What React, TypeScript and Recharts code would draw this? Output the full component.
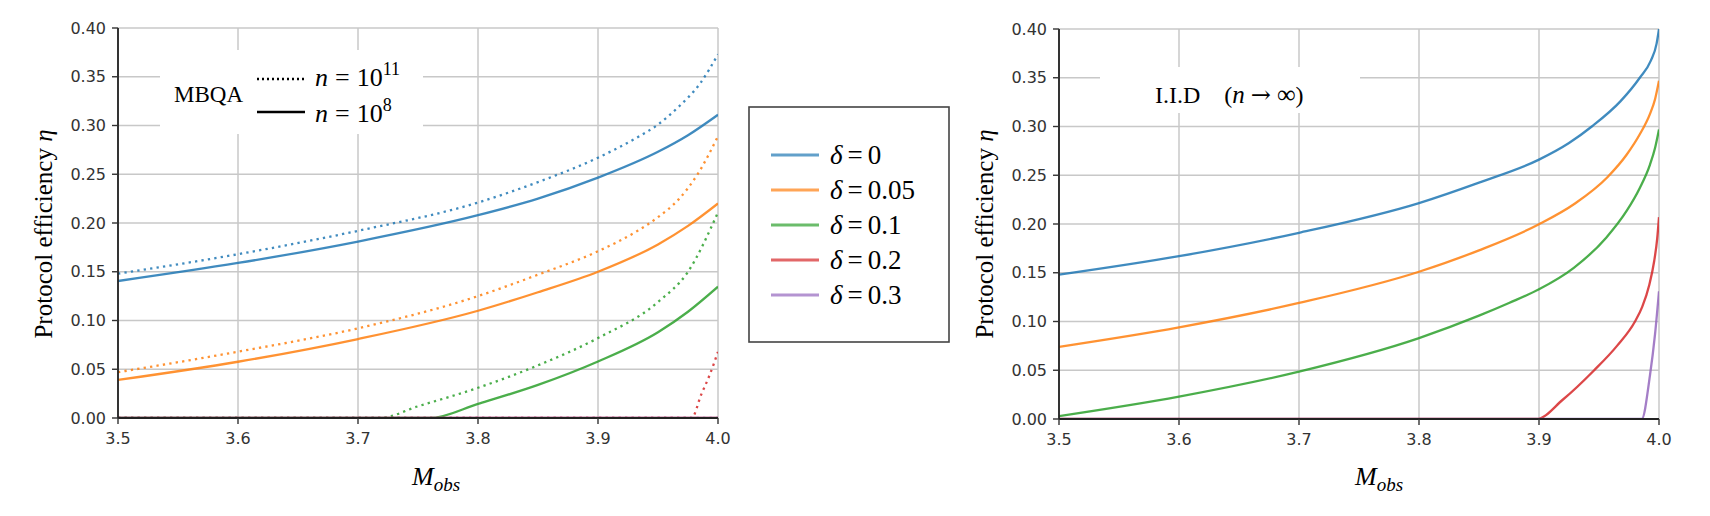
import { LineChart, Line, XAxis, YAxis, CartesianGrid } from "recharts";

type Pt = [number, number];

const xTicks = [3.5, 3.6, 3.7, 3.8, 3.9, 4.0];
const yTicks = [0, 0.05, 0.1, 0.15, 0.2, 0.25, 0.3, 0.35, 0.4];
const deltas = ["0", "0.05", "0.1", "0.2", "0.3"];
const colors = ["#1f77b4", "#ff7f0e", "#2ca02c", "#d62728", "#9467bd"];

// MBQA, n = 10^11 (dotted)
const n11d0: Pt[] = [[3.5, 0.148], [3.6, 0.168], [3.7, 0.192], [3.8, 0.221], [3.85, 0.242], [3.9, 0.267], [3.933, 0.288], [3.95, 0.301], [3.967, 0.319], [3.985, 0.343], [4.0, 0.373]];
const n11d05: Pt[] = [[3.5, 0.047], [3.6, 0.068], [3.7, 0.092], [3.8, 0.125], [3.85, 0.147], [3.9, 0.171], [3.933, 0.192], [3.95, 0.206], [3.967, 0.224], [3.983, 0.25], [4.0, 0.289]];
const n11d1: Pt[] = [[3.5, 0], [3.718, 0], [3.75, 0.012], [3.8, 0.031], [3.85, 0.054], [3.9, 0.082], [3.95, 0.119], [3.975, 0.15], [4.0, 0.211]];
const n11d2: Pt[] = [[3.5, 0], [3.978, 0], [3.986, 0.024], [3.993, 0.044], [4.0, 0.068]];
const n11d3: Pt[] = [[3.5, 0], [4.0, 0]];

// MBQA, n = 10^8 (solid)
const n8d0: Pt[] = [[3.5, 0.1405], [3.6, 0.159], [3.7, 0.181], [3.8, 0.208], [3.85, 0.225], [3.9, 0.2465], [3.95, 0.273], [3.975, 0.29], [4.0, 0.311]];
const n8d05: Pt[] = [[3.5, 0.039], [3.6, 0.0577], [3.7, 0.081], [3.8, 0.11], [3.85, 0.129], [3.9, 0.15], [3.95, 0.178], [3.975, 0.197], [4.0, 0.22]];
const n8d1: Pt[] = [[3.5, 0], [3.76, 0], [3.8, 0.0145], [3.85, 0.034], [3.9, 0.058], [3.95, 0.088], [3.975, 0.109], [4.0, 0.1347]];
const n8d2: Pt[] = [[3.5, 0], [4.0, 0]];
const n8d3: Pt[] = [[3.5, 0], [4.0, 0]];

// I.I.D (n -> infinity)
const iidD0: Pt[] = [[3.5, 0.148], [3.6, 0.167], [3.7, 0.191], [3.8, 0.2215], [3.85, 0.2425], [3.9, 0.266], [3.925, 0.283], [3.944, 0.3], [3.968, 0.326], [3.984, 0.35], [3.993, 0.367], [3.998, 0.385], [4.0, 0.4]];
const iidD05: Pt[] = [[3.5, 0.074], [3.6, 0.094], [3.7, 0.119], [3.8, 0.151], [3.85, 0.173], [3.9, 0.1997], [3.93, 0.221], [3.957, 0.248], [3.973, 0.271], [3.984, 0.292], [3.9925, 0.313], [3.9967, 0.328], [4.0, 0.347]];
const iidD1: Pt[] = [[3.5, 0.003], [3.6, 0.023], [3.7, 0.0486], [3.8, 0.083], [3.85, 0.106], [3.875, 0.119], [3.9, 0.133], [3.929, 0.155], [3.956, 0.186], [3.973, 0.2134], [3.984, 0.237], [3.9925, 0.261], [3.9967, 0.278], [4.0, 0.297]];
const iidD2: Pt[] = [[3.5, 0], [3.898, 0], [3.92, 0.02], [3.946, 0.05], [3.965, 0.075], [3.98, 0.1], [3.986, 0.115], [3.992, 0.138], [3.996, 0.162], [3.9985, 0.185], [4.0, 0.207]];
const iidD3: Pt[] = [[3.5, 0], [3.9856, 0], [3.9925, 0.045], [3.9967, 0.087], [4.0, 0.131]];

const n11 = [n11d0, n11d05, n11d1, n11d2, n11d3];
const n8 = [n8d0, n8d05, n8d1, n8d2, n8d3];
const iid = [iidD0, iidD05, iidD1, iidD2, iidD3];

type Series = { pts: Pt[]; color: string; dotted: boolean; key: string };

const toRows = (pts: Pt[]) => pts.map(([x, y]) => ({ x, y }));

const serif = "'Liberation Serif', 'Times New Roman', serif";
const tickFont = { fill: "#333", fontSize: 16, fontFamily: "'DejaVu Sans', sans-serif" };

function Panel({ series, margin }: { series: Series[]; margin: any }) {
  return (
    <LineChart width={740} height={516} margin={margin}>
      <CartesianGrid stroke="#c8c8c8" strokeWidth={1.5} />
      <XAxis
        dataKey="x"
        type="number"
        domain={[3.5, 4.0]}
        ticks={xTicks}
        tickFormatter={(v: number) => v.toFixed(1)}
        allowDataOverflow
        height={30}
        tickSize={6}
        tickMargin={9}
        tick={tickFont}
        axisLine={{ stroke: "#222", strokeWidth: 1.8 }}
        tickLine={{ stroke: "#333", strokeWidth: 1.4 }}
      />
      <XAxis xAxisId="top" orientation="top" type="number" domain={[3.5, 4.0]} height={0} tick={false} tickLine={false} axisLine={{ stroke: "#555", strokeWidth: 1.6 }} />
      <YAxis
        type="number"
        domain={[0, 0.4]}
        ticks={yTicks}
        tickFormatter={(v: number) => v.toFixed(2)}
        allowDataOverflow
        width={50}
        tickSize={6}
        tickMargin={6}
        tick={tickFont}
        axisLine={{ stroke: "#222", strokeWidth: 1.8 }}
        tickLine={{ stroke: "#333", strokeWidth: 1.4 }}
      />
      <YAxis yAxisId="right" orientation="right" type="number" domain={[0, 0.4]} width={0} tick={false} tickLine={false} axisLine={{ stroke: "#555", strokeWidth: 1.6 }} />
      {series.map((s) => (
        <Line
          key={s.key}
          data={toRows(s.pts)}
          dataKey="y"
          type="monotone"
          stroke={s.color}
          strokeOpacity={0.85}
          strokeWidth={2.3}
          strokeDasharray={s.dotted ? "2.3 4.2" : undefined}
          dot={false}
          activeDot={false}
          isAnimationActive={false}
        />
      ))}
    </LineChart>
  );
}

export default function App() {
  const leftSeries: Series[] = [
    ...n11.map((pts, i) => ({ pts, color: colors[i], dotted: true, key: "n11-" + i })),
    ...n8.map((pts, i) => ({ pts, color: colors[i], dotted: false, key: "n8-" + i })),
  ];
  const rightSeries: Series[] = iid.map((pts, i) => ({ pts, color: colors[i], dotted: false, key: "iid-" + i }));

  return (
    <div style={{ position: "absolute", left: 0, top: 0, width: 1710, height: 516, background: "#fff" }}>
      <div style={{ position: "absolute", left: 0, top: 0 }}>
        <Panel series={leftSeries} margin={{ top: 28, right: 22, bottom: 68, left: 68 }} />
      </div>
      <div style={{ position: "absolute", left: 960, top: 0 }}>
        <Panel series={rightSeries} margin={{ top: 29, right: 41, bottom: 67, left: 49 }} />
      </div>

      <svg width={1710} height={516} style={{ position: "absolute", left: 0, top: 0, pointerEvents: "none" }} fontFamily={serif}>
        {/* axis labels */}
        {[43, 984].map((cx) => (
          <text key={cx} transform={`translate(${cx},234) rotate(-90)`} textAnchor="middle" dominantBaseline="central" fontSize={25} fill="#000">
            Protocol efficiency <tspan fontStyle="italic">η</tspan>
          </text>
        ))}
        {[412, 1355].map((lx) => (
          <text key={lx} x={lx} y={485} fontSize={26} fontStyle="italic" fill="#000">
            M<tspan fontSize={19} dy={6}>obs</tspan>
          </text>
        ))}

        {/* MBQA legend */}
        <rect x={160} y={50} width={263} height={84} fill="#fff" />
        <text x={174} y={102} fontSize={23}>MBQA</text>
        <line x1={257} x2={305} y1={79} y2={79} stroke="#000" strokeWidth={2.4} strokeDasharray="2 3" />
        <line x1={257} x2={305} y1={112} y2={112} stroke="#000" strokeWidth={2.6} />
        <text x={315} y={86} fontSize={26}>
          <tspan fontStyle="italic">n</tspan>
          <tspan dx={7}>=</tspan>
          <tspan dx={7}>10</tspan>
          <tspan fontSize={18} dy={-11}>11</tspan>
        </text>
        <text x={315} y={122} fontSize={26}>
          <tspan fontStyle="italic">n</tspan>
          <tspan dx={7}>=</tspan>
          <tspan dx={7}>10</tspan>
          <tspan fontSize={18} dy={-11}>8</tspan>
        </text>

        {/* I.I.D label */}
        <rect x={1100} y={67} width={260} height={46} fill="#fff" />
        <text x={1155} y={103} fontSize={24}>
          I.I.D
          <tspan dx={24}>(</tspan>
          <tspan fontStyle="italic" fontSize={25}>n</tspan>
          <tspan dx={6} fontFamily="'DejaVu Serif', serif" fontSize={24}>→</tspan>
          <tspan dx={6} fontSize={26}>∞</tspan>
          <tspan>)</tspan>
        </text>

        {/* delta legend */}
        <rect x={749} y={107} width={200} height={235} fill="#fff" stroke="#444" strokeWidth={1.6} />
        {deltas.map((d, i) => (
          <g key={d}>
            <line x1={771} x2={819} y1={155 + i * 35} y2={155 + i * 35} stroke={colors[i]} strokeOpacity={0.7} strokeWidth={3.2} />
            <text x={830} y={164 + i * 35} fontSize={27}>
              <tspan fontStyle="italic">δ</tspan>
              <tspan dx={5}>=</tspan>
              <tspan dx={5}>{d}</tspan>
            </text>
          </g>
        ))}
      </svg>
    </div>
  );
}
